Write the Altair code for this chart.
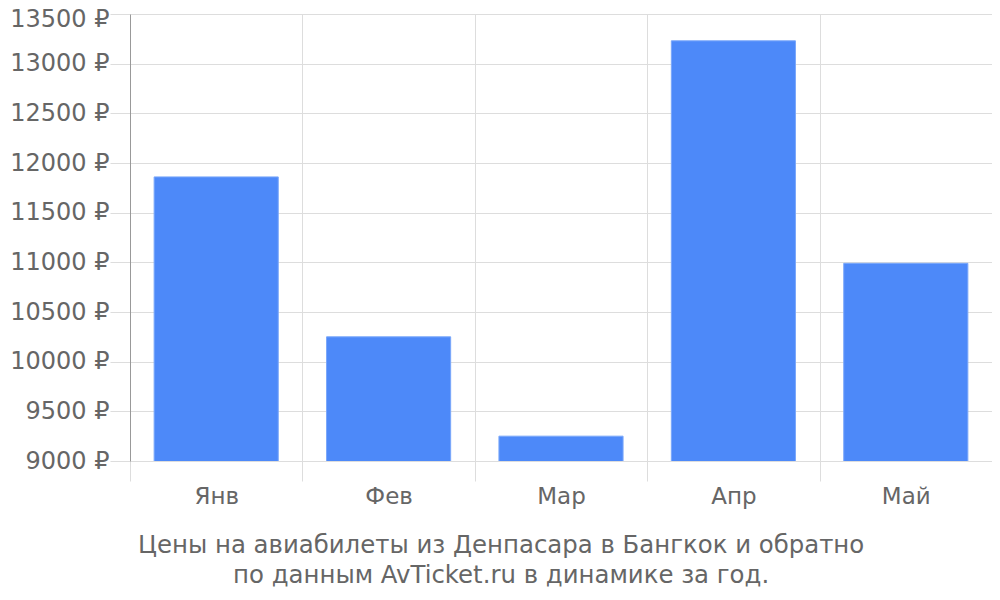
import altair as alt
import pandas as pd

months = ["Янв", "Фев", "Мар", "Апр", "Май"]
prices = [11860, 10250, 9250, 13230, 10990]

df = pd.DataFrame({"month": months, "price": prices})

FONT = "DejaVu Sans"
GREY = "#666666"

chart = alt.Chart(df).mark_bar(
    color="#4d89f9", stroke="#7aa7fa", strokeWidth=1, clip=True,
    width=alt.RelativeBandSize(0.72)
).encode(
    x=alt.X("month:N", sort=months, title=None,
            scale=alt.Scale(paddingInner=0, paddingOuter=0),
            axis=alt.Axis(labelAngle=0, labelFont=FONT, labelFontSize=23,
                          labelColor=GREY, labelPadding=4,
                          tickBand="extent", tickSize=20, tickColor="#dddddd",
                          grid=True, gridColor="#dddddd",
                          domainColor="#dddddd")),
    y=alt.Y("price:Q", title=None,
            scale=alt.Scale(domain=[9000, 13500], nice=False, zero=False),
            axis=alt.Axis(values=list(range(9000, 13501, 500)),
                          labelExpr="datum.value + ' ₽'",
                          labelOffset={"condition": {"test": "datum.value == 13500", "value": 5}, "value": 0},
                          labelFont=FONT, labelFontSize=24, labelColor=GREY,
                          labelPadding=1, tickSize=20, tickColor="#dddddd",
                          gridColor="#dddddd", domainColor="#999999"))
).properties(
    width=862, height=447,
    autosize=alt.AutoSizeParams(type="none"),
    padding={"left": 122, "top": 6, "right": 0, "bottom": 131},
    title=alt.TitleParams(
        text=["Цены на авиабилеты из Денпасара в Бангкок и обратно",
              "по данным AvTicket.ru в динамике за год."],
        orient="bottom", anchor="middle", frame="bounds", font=FONT, fontSize=24.4,
        fontWeight="normal", color=GREY, lineHeight=30, offset=26)
).configure_view(stroke=None)

chart.save("out.html", embed_options={"renderer": "svg", "actions": False})
